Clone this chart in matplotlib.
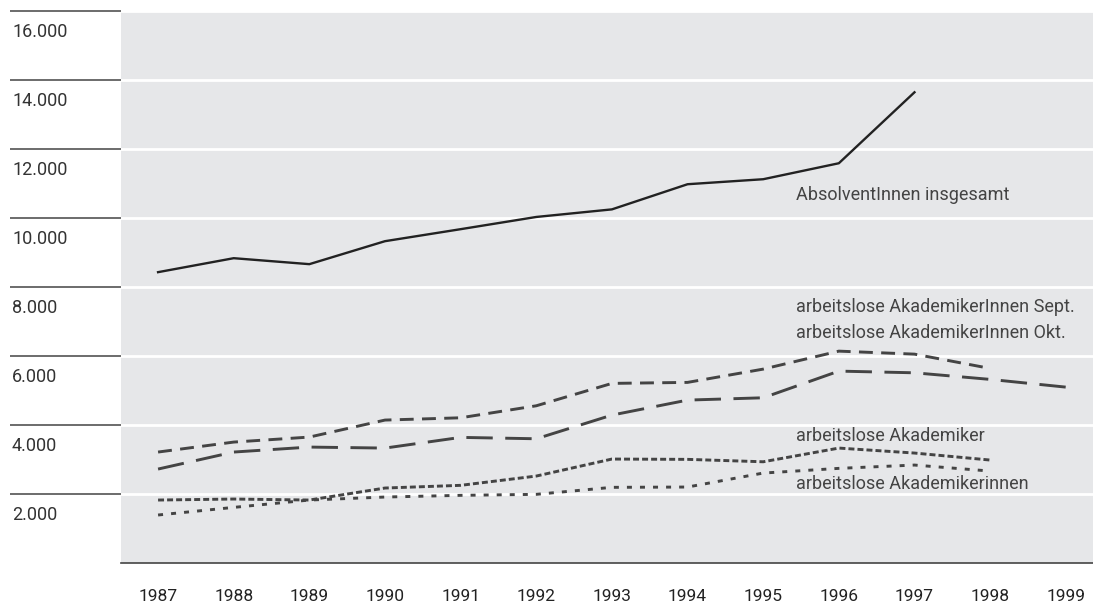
import matplotlib.pyplot as plt
from matplotlib.ticker import FixedLocator

plt.rcParams['font.family'] = ['Roboto', 'DejaVu Sans']
plt.rcParams['lines.scale_dashes'] = False

# Daten
jahre = [1987, 1988, 1989, 1990, 1991, 1992, 1993, 1994, 1995, 1996, 1997, 1998, 1999]
absolventen = [8430, 8835, 8662, 9328, 9676, 10030, 10250, 10979, 11124, 11587, 13644]
akad_sept = [3216, 3505, 3650, 4143, 4209, 4557, 5206, 5235, 5620, 6141, 6054, 5640]
akad_okt = [2723, 3216, 3360, 3331, 3641, 3601, 4287, 4722, 4789, 5562, 5513, 5322, 5098]
akademiker = [1825, 1854, 1825, 2173, 2251, 2520, 3013, 3004, 2934, 3331, 3187, 2984]
akademikerinnen = [1391, 1612, 1825, 1912, 1961, 1990, 2193, 2202, 2607, 2743, 2839, 2665]

y_ticks = [2000, 4000, 6000, 8000, 10000, 12000, 14000, 16000]
y_labels = ['2.000', '4.000', '6.000', '8.000', '10.000', '12.000', '14.000', '16.000']

beschriftungen = [
    ('AbsolventInnen insgesamt', 10660),
    ('arbeitslose AkademikerInnen Sept.', 7416),
    ('arbeitslose AkademikerInnen Okt.', 6663),
    ('arbeitslose Akademiker', 3679),
    ('arbeitslose Akademikerinnen', 2289),
]

fig = plt.figure(figsize=(10.93, 6.03), dpi=100)
ax = fig.add_axes([121 / 1093, 1 - 563 / 603, 1 - 121 / 1093, (563 - 11) / 603])
ax.set_facecolor('#e6e7e9')

ax.plot(jahre[:len(absolventen)], absolventen, color='#222222', lw=1.7)
ax.plot(jahre[:len(akad_sept)], akad_sept, color='#444444', lw=2.1, dashes=(10, 6))
ax.plot(jahre[:len(akad_okt)], akad_okt, color='#444444', lw=2.1, dashes=(19, 9))
ax.plot(jahre[:len(akademiker)], akademiker, color='#444444', lw=2.1, dashes=(4.3, 2.2))
ax.plot(jahre[:len(akademikerinnen)], akademikerinnen, color='#444444', lw=2.1, dashes=(3.6, 5.8))

ax.set_xlim(1986.51, 1999.36)
ax.set_ylim(0, 16000)

# weisse Gitterlinien
ax.yaxis.set_major_locator(FixedLocator(y_ticks))
ax.grid(axis='y', color='white', lw=2)
ax.set_axisbelow(True)

for s in ['top', 'right', 'left']:
    ax.spines[s].set_visible(False)
ax.spines['bottom'].set_color('#444444')
ax.spines['bottom'].set_linewidth(1.2)

# lange Striche links, Beschriftung darunter
ax.tick_params(axis='y', length=80, width=1.1, color='#444444', direction='out', labelleft=False)
for v, lab in zip(y_ticks, y_labels):
    y_px = 563 - v * (552 / 16000) + 21
    fig.text(12 / 1093, 1 - y_px / 603, lab, ha='left', va='center', fontsize=13, color='#333333')

ax.set_xticks(jahre)
ax.set_xticklabels([str(j) for j in jahre])
ax.tick_params(axis='x', length=0, pad=18.5, labelsize=12.5, labelcolor='#222222')

for text, y in beschriftungen:
    ax.text(1995.43, y, text, ha='left', va='center', fontsize=13, color='#444444')

plt.savefig('out.png', dpi=100)
plt.close()
